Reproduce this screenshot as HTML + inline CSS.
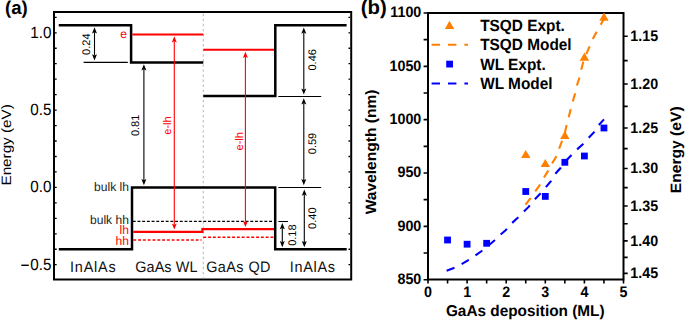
<!DOCTYPE html>
<html><head><meta charset="utf-8"><style>
html,body{margin:0;padding:0;background:#fff;width:685px;height:320px;overflow:hidden}
svg{display:block} text{text-rendering:geometricPrecision}
</style></head><body>
<svg width="685" height="320" viewBox="0 0 685 320">
<rect width="685" height="320" fill="#fff"/>
<rect x="54" y="12" width="297.2" height="267.5" fill="none" stroke="#000" stroke-width="2"/>
<path d="M55,264.70h1.7M350.2,264.70h-1.7M55,249.24h1.7M350.2,249.24h-1.7M55,233.78h1.7M350.2,233.78h-1.7M55,218.32h1.7M350.2,218.32h-1.7M55,202.86h1.7M350.2,202.86h-1.7M55,187.40h1.7M350.2,187.40h-1.7M55,171.94h1.7M350.2,171.94h-1.7M55,156.48h1.7M350.2,156.48h-1.7M55,141.02h1.7M350.2,141.02h-1.7M55,125.56h1.7M350.2,125.56h-1.7M55,110.10h1.7M350.2,110.10h-1.7M55,94.64h1.7M350.2,94.64h-1.7M55,79.18h1.7M350.2,79.18h-1.7M55,63.72h1.7M350.2,63.72h-1.7M55,48.26h1.7M350.2,48.26h-1.7M55,32.80h1.7M350.2,32.80h-1.7M55,17.34h1.7M350.2,17.34h-1.7" stroke="#000" stroke-width="1.3"/>
<text transform="translate(51.5,37.75) scale(0.935,1.0)" font-size="16.3" text-anchor="end" font-weight="normal" fill="#000" font-family="Liberation Sans, sans-serif">1.0</text>
<text transform="translate(51.5,115.05) scale(0.935,1.0)" font-size="16.3" text-anchor="end" font-weight="normal" fill="#000" font-family="Liberation Sans, sans-serif">0.5</text>
<text transform="translate(51.5,192.35) scale(0.935,1.0)" font-size="16.3" text-anchor="end" font-weight="normal" fill="#000" font-family="Liberation Sans, sans-serif">0.0</text>
<text transform="translate(51.5,269.65) scale(0.935,1.0)" font-size="16.3" text-anchor="end" font-weight="normal" fill="#000" font-family="Liberation Sans, sans-serif">0.5</text>
<path d="M21.3,265.3H28.8" stroke="#000" stroke-width="1.45"/>
<text transform="translate(11.3,144.9) rotate(-90) scale(1.12,1.0)" font-size="13.6" text-anchor="middle" font-weight="normal" fill="#000" font-family="Liberation Sans, sans-serif">Energy (eV)</text>
<text transform="translate(5.0,14.4)" font-size="18.6" text-anchor="start" font-weight="bold" fill="#000" font-family="Liberation Sans, sans-serif">(a)</text>
<line x1="203.3" y1="13.74" x2="203.3" y2="278.6" stroke="#bdbdbd" stroke-width="1.1" stroke-dasharray="2.4 2.6625"/>
<path d="M58.75,25.3H131.1V62.4H203.3" fill="none" stroke="#000" stroke-width="2.5"/>
<path d="M203.3,96.1H275.3V25.3H346.6" fill="none" stroke="#000" stroke-width="2.5"/>
<path d="M58.8,249.3H132V187.5H275.2V249.3H346.7" fill="none" stroke="#000" stroke-width="2.5"/>
<path d="M132.3,34.4H203.3M203.3,49.8H274" stroke="#f00" stroke-width="2"/>
<path d="M133.3,231.8H202.4V229.1H274" fill="none" stroke="#f00" stroke-width="2.2"/>
<path d="M133.3,239.9H201.6M203.3,237.3H274" stroke="#f00" stroke-width="1.5" stroke-dasharray="2.9 1.9"/>
<path d="M132.8,221.4H273.5" stroke="#000" stroke-width="1.4" stroke-dasharray="2.9 1.8"/>
<path d="M83.6,62.4H127.8M278.3,96.5H321.2M278.3,187.5H321.2M278.3,221.5H288" stroke="#000" stroke-width="1.2"/>
<line x1="94.5" y1="32.16" x2="94.5" y2="55.44" stroke="#000" stroke-width="1.1"/><path d="M94.5,27.2L92.0,33.4L94.5,32.16L97.0,33.4Z M94.5,60.4L92.0,54.199999999999996L94.5,55.44L97.0,54.199999999999996Z" fill="#000"/>
<line x1="143.9" y1="69.16" x2="143.9" y2="180.34" stroke="#000" stroke-width="1.1"/><path d="M143.9,64.2L141.4,70.4L143.9,69.16L146.4,70.4Z M143.9,185.3L141.4,179.10000000000002L143.9,180.34L146.4,179.10000000000002Z" fill="#000"/>
<line x1="303.8" y1="32.56" x2="303.8" y2="89.63999999999999" stroke="#000" stroke-width="1.1"/><path d="M303.8,27.6L301.3,33.800000000000004L303.8,32.56L306.3,33.800000000000004Z M303.8,94.6L301.3,88.39999999999999L303.8,89.63999999999999L306.3,88.39999999999999Z" fill="#000"/>
<line x1="303.8" y1="103.25999999999999" x2="303.8" y2="180.34" stroke="#000" stroke-width="1.1"/><path d="M303.8,98.3L301.3,104.5L303.8,103.25999999999999L306.3,104.5Z M303.8,185.3L301.3,179.10000000000002L303.8,180.34L306.3,179.10000000000002Z" fill="#000"/>
<line x1="304.3" y1="194.56" x2="304.3" y2="242.34" stroke="#000" stroke-width="1.1"/><path d="M304.3,189.6L301.8,195.79999999999998L304.3,194.56L306.8,195.79999999999998Z M304.3,247.3L301.8,241.10000000000002L304.3,242.34L306.8,241.10000000000002Z" fill="#000"/>
<line x1="282.3" y1="227.96" x2="282.3" y2="242.34" stroke="#000" stroke-width="1.1"/><path d="M282.3,223.0L279.8,229.2L282.3,227.96L284.8,229.2Z M282.3,247.3L279.8,241.10000000000002L282.3,242.34L284.8,241.10000000000002Z" fill="#000"/>
<line x1="174.3" y1="41.26" x2="174.3" y2="224.64" stroke="#f00" stroke-width="1.1"/><path d="M174.3,36.3L171.8,42.5L174.3,41.26L176.8,42.5Z M174.3,229.6L171.8,223.4L174.3,224.64L176.8,223.4Z" fill="#f00"/>
<line x1="245.4" y1="56.76" x2="245.4" y2="222.14" stroke="#f00" stroke-width="1.1"/><path d="M245.4,51.8L242.9,58.0L245.4,56.76L247.9,58.0Z M245.4,227.1L242.9,220.9L245.4,222.14L247.9,220.9Z" fill="#f00"/>
<text transform="translate(86.3,44.2) rotate(-90)" y="3.96" font-size="11.0" text-anchor="middle" font-weight="normal" fill="#000" font-family="Liberation Sans, sans-serif">0.24</text>
<text transform="translate(135.2,125.4) rotate(-90)" y="3.96" font-size="11.0" text-anchor="middle" font-weight="normal" fill="#000" font-family="Liberation Sans, sans-serif">0.81</text>
<text transform="translate(312.4,59.8) rotate(-90)" y="3.96" font-size="11.0" text-anchor="middle" font-weight="normal" fill="#000" font-family="Liberation Sans, sans-serif">0.46</text>
<text transform="translate(312.3,143.5) rotate(-90)" y="3.96" font-size="11.0" text-anchor="middle" font-weight="normal" fill="#000" font-family="Liberation Sans, sans-serif">0.59</text>
<text transform="translate(312.3,218.2) rotate(-90)" y="3.96" font-size="11.0" text-anchor="middle" font-weight="normal" fill="#000" font-family="Liberation Sans, sans-serif">0.40</text>
<text transform="translate(292,235.1) rotate(-90)" y="3.96" font-size="11.0" text-anchor="middle" font-weight="normal" fill="#000" font-family="Liberation Sans, sans-serif">0.18</text>
<text transform="translate(167.2,125.5) rotate(-90)" y="3.96" font-size="11.0" text-anchor="middle" font-weight="normal" fill="#f00" font-family="Liberation Sans, sans-serif">e-lh</text>
<text transform="translate(238.7,141.3) rotate(-90)" y="3.96" font-size="11.0" text-anchor="middle" font-weight="normal" fill="#f00" font-family="Liberation Sans, sans-serif">e-lh</text>
<text transform="translate(127.0,38.2) scale(0.98,1.0)" font-size="12.3" text-anchor="end" font-weight="normal" fill="#f00" font-family="Liberation Sans, sans-serif">e</text>
<text transform="translate(128.9,190.8) scale(0.98,1.0)" font-size="12.3" text-anchor="end" font-weight="normal" fill="#222" font-family="Liberation Sans, sans-serif">bulk lh</text>
<text transform="translate(128.9,223.9) scale(0.98,1.0)" font-size="12.3" text-anchor="end" font-weight="normal" fill="#222" font-family="Liberation Sans, sans-serif">bulk hh</text>
<text transform="translate(128.9,234.3) scale(0.98,1.0)" font-size="12.3" text-anchor="end" font-weight="normal" fill="#f00" font-family="Liberation Sans, sans-serif">lh</text>
<text transform="translate(128.9,244.7) scale(0.98,1.0)" font-size="12.3" text-anchor="end" font-weight="normal" fill="#f00" font-family="Liberation Sans, sans-serif">hh</text>
<text transform="translate(70,272) scale(0.95,1.0)" letter-spacing="0.85" font-size="15.2" text-anchor="start" font-weight="normal" fill="#111" font-family="Liberation Sans, sans-serif">InAlAs</text>
<text transform="translate(135.2,271.6) scale(0.95,1.0)" letter-spacing="0.1" font-size="15.2" text-anchor="start" font-weight="normal" fill="#111" font-family="Liberation Sans, sans-serif">GaAs WL</text>
<text transform="translate(206.2,271.6) scale(0.95,1.0)" letter-spacing="0.45" font-size="15.2" text-anchor="start" font-weight="normal" fill="#111" font-family="Liberation Sans, sans-serif">GaAs QD</text>
<text transform="translate(289.8,272.2) scale(0.95,1.0)" letter-spacing="0.75" font-size="15.2" text-anchor="start" font-weight="normal" fill="#111" font-family="Liberation Sans, sans-serif">InAlAs</text>
<path d="M428,279.6V13H623.5V279.6Z" fill="none" stroke="#000" stroke-width="2"/>
<path d="M428,279.68h-4.4M428,253.01h-4.4M428,226.34h-4.4M428,199.67h-4.4M428,173.00h-4.4M428,146.34h-4.4M428,119.67h-4.4M428,93.00h-4.4M428,66.34h-4.4M428,39.67h-4.4M428,13.00h-4.4M428.00,279.6v4M447.55,279.6v4M467.10,279.6v4M486.65,279.6v4M506.20,279.6v4M525.75,279.6v4M545.30,279.6v4M564.85,279.6v4M584.40,279.6v4M603.95,279.6v4M623.50,279.6v4M623.5,36.26h4.2M623.5,60.64h4.2M623.5,84.01h4.2M623.5,106.42h4.2M623.5,127.94h4.2M623.5,148.61h4.2M623.5,168.49h4.2M623.5,187.62h4.2M623.5,206.04h4.2M623.5,223.79h4.2M623.5,240.91h4.2M623.5,257.42h4.2M623.5,273.37h4.2" stroke="#000" stroke-width="1.6"/>
<text transform="translate(421.3,283.88) scale(0.94,1.0)" font-size="15.2" text-anchor="end" font-weight="bold" fill="#000" font-family="Liberation Sans, sans-serif">850</text>
<text transform="translate(421.3,230.54) scale(0.94,1.0)" font-size="15.2" text-anchor="end" font-weight="bold" fill="#000" font-family="Liberation Sans, sans-serif">900</text>
<text transform="translate(421.3,177.2) scale(0.94,1.0)" font-size="15.2" text-anchor="end" font-weight="bold" fill="#000" font-family="Liberation Sans, sans-serif">950</text>
<text transform="translate(421.3,123.87) scale(0.94,1.0)" font-size="15.2" text-anchor="end" font-weight="bold" fill="#000" font-family="Liberation Sans, sans-serif">1000</text>
<text transform="translate(421.3,70.54) scale(0.94,1.0)" font-size="15.2" text-anchor="end" font-weight="bold" fill="#000" font-family="Liberation Sans, sans-serif">1050</text>
<text transform="translate(421.3,17.2) scale(0.94,1.0)" font-size="15.2" text-anchor="end" font-weight="bold" fill="#000" font-family="Liberation Sans, sans-serif">1100</text>
<text transform="translate(428.0,297.3) scale(0.94,1.0)" font-size="15.2" text-anchor="middle" font-weight="bold" fill="#000" font-family="Liberation Sans, sans-serif">0</text>
<text transform="translate(467.1,297.3) scale(0.94,1.0)" font-size="15.2" text-anchor="middle" font-weight="bold" fill="#000" font-family="Liberation Sans, sans-serif">1</text>
<text transform="translate(506.2,297.3) scale(0.94,1.0)" font-size="15.2" text-anchor="middle" font-weight="bold" fill="#000" font-family="Liberation Sans, sans-serif">2</text>
<text transform="translate(545.3,297.3) scale(0.94,1.0)" font-size="15.2" text-anchor="middle" font-weight="bold" fill="#000" font-family="Liberation Sans, sans-serif">3</text>
<text transform="translate(584.4,297.3) scale(0.94,1.0)" font-size="15.2" text-anchor="middle" font-weight="bold" fill="#000" font-family="Liberation Sans, sans-serif">4</text>
<text transform="translate(623.5,297.3) scale(0.94,1.0)" font-size="15.2" text-anchor="middle" font-weight="bold" fill="#000" font-family="Liberation Sans, sans-serif">5</text>
<text transform="translate(630.3,40.86) scale(0.94,1.0)" font-size="15.2" text-anchor="start" font-weight="bold" fill="#000" font-family="Liberation Sans, sans-serif">1.15</text>
<text transform="translate(630.3,88.61) scale(0.94,1.0)" font-size="15.2" text-anchor="start" font-weight="bold" fill="#000" font-family="Liberation Sans, sans-serif">1.20</text>
<text transform="translate(630.3,132.54) scale(0.94,1.0)" font-size="15.2" text-anchor="start" font-weight="bold" fill="#000" font-family="Liberation Sans, sans-serif">1.25</text>
<text transform="translate(630.3,173.09) scale(0.94,1.0)" font-size="15.2" text-anchor="start" font-weight="bold" fill="#000" font-family="Liberation Sans, sans-serif">1.30</text>
<text transform="translate(630.3,210.64) scale(0.94,1.0)" font-size="15.2" text-anchor="start" font-weight="bold" fill="#000" font-family="Liberation Sans, sans-serif">1.35</text>
<text transform="translate(630.3,245.51) scale(0.94,1.0)" font-size="15.2" text-anchor="start" font-weight="bold" fill="#000" font-family="Liberation Sans, sans-serif">1.40</text>
<text transform="translate(630.3,277.97) scale(0.94,1.0)" font-size="15.2" text-anchor="start" font-weight="bold" fill="#000" font-family="Liberation Sans, sans-serif">1.45</text>
<text transform="translate(445.9,316.1) scale(0.985,1.0)" font-size="15.6" text-anchor="start" font-weight="bold" fill="#000" font-family="Liberation Sans, sans-serif">GaAs deposition (ML)</text>
<text transform="translate(375.9,151.9) rotate(-90) scale(1.0368421052631578,1.0)" font-size="15.0" text-anchor="middle" font-weight="bold" fill="#000" font-family="Liberation Sans, sans-serif">Wavelength (nm)</text>
<text transform="translate(680.6,149.8) rotate(-90) scale(1.0421052631578946,1.0)" font-size="15.0" text-anchor="middle" font-weight="bold" fill="#000" font-family="Liberation Sans, sans-serif">Energy (eV)</text>
<text transform="translate(360.8,14.2) scale(1.02,1.0)" font-size="20" text-anchor="start" font-weight="bold" fill="#000" font-family="Liberation Sans, sans-serif">(b)</text>
<path d="M449.5,20.799999999999997L454.2,29.0L444.8,29.0Z" fill="#ff8000"/>
<path d="M431.6,44.8H468" stroke="#ff8000" stroke-width="2" stroke-dasharray="8.4 8"/>
<rect x="446.20" y="60.70" width="6.8" height="6.8" fill="#0000ff"/>
<path d="M431.6,83.4H468" stroke="#0000ff" stroke-width="2" stroke-dasharray="8.4 8"/>
<text transform="translate(480.2,31.3) scale(0.95,1.0)" font-size="16.2" text-anchor="start" font-weight="bold" fill="#000" font-family="Liberation Sans, sans-serif">TSQD Expt.</text>
<text transform="translate(480.2,50.4) scale(0.95,1.0)" font-size="16.2" text-anchor="start" font-weight="bold" fill="#000" font-family="Liberation Sans, sans-serif">TSQD Model</text>
<text transform="translate(480.2,69.9) scale(0.95,1.0)" font-size="16.2" text-anchor="start" font-weight="bold" fill="#000" font-family="Liberation Sans, sans-serif">WL Expt.</text>
<text transform="translate(480.2,88.7) scale(0.95,1.0)" font-size="16.2" text-anchor="start" font-weight="bold" fill="#000" font-family="Liberation Sans, sans-serif">WL Model</text>
<defs><clipPath id="cb"><rect x="428" y="13" width="195.5" height="266.6"/></clipPath></defs>
<g clip-path="url(#cb)">
<path d="M446.6,270.7 L454.6,267.8 L461,264.5 L469,259.8 L474.7,256 L481.7,251 L488.8,245.3 L494.4,240.6 L499.7,235.3 L505.6,230.3 L511.4,223.6 L516.9,218.6 L523.1,212.3 L528.6,206.9 L534,200.2 L540.2,193.75 L545.6,187.5 L551.1,180.9 L555,174.2 L560.5,168 L565,161.7 L570.6,156 L576.6,149.8 L582.8,144.3 L588.5,138.1 L594.1,132.1 L598.8,125 L604,119.4" fill="none" stroke="#0000ff" stroke-width="2.1" stroke-dasharray="8.4 8"/>
<path d="M525.5,204.6 L530.2,198.6 L534.9,191.8 L539.6,185.5 L543.1,178.9 L547.8,171.4 L551.3,164.6 L556,157.1 L559,149.0 L561.9,141.25 L565,132.5 L566.5,125.6 L568.75,116.9 L570.6,109.75 L572.9,101.25 L575,93.75 L576.9,85.5 L579.4,77.75 L581.25,69.8 L583.1,62.5 L586.25,54.4 L589.4,46.9 L592.5,39.6 L596.25,32.5 L600.6,25 L603.6,19.5 L605,16" fill="none" stroke="#ff8000" stroke-width="2.1" stroke-dasharray="8.4 8"/>
</g>
<rect x="444.15" y="236.60" width="6.8" height="6.8" fill="#0000ff"/>
<rect x="463.70" y="240.80" width="6.8" height="6.8" fill="#0000ff"/>
<rect x="483.25" y="239.90" width="6.8" height="6.8" fill="#0000ff"/>
<rect x="522.35" y="188.10" width="6.8" height="6.8" fill="#0000ff"/>
<rect x="541.90" y="193.00" width="6.8" height="6.8" fill="#0000ff"/>
<rect x="561.45" y="158.90" width="6.8" height="6.8" fill="#0000ff"/>
<rect x="581.00" y="152.60" width="6.8" height="6.8" fill="#0000ff"/>
<rect x="600.55" y="124.60" width="6.8" height="6.8" fill="#0000ff"/>
<path d="M525.75,149.9L530.45,158.1L521.05,158.1Z" fill="#ff8000"/>
<path d="M545.3,158.9L550.0,167.1L540.5999999999999,167.1Z" fill="#ff8000"/>
<path d="M564.85,130.70000000000002L569.5500000000001,138.9L560.15,138.9Z" fill="#ff8000"/>
<path d="M584.4,52.5L589.1,60.7L579.6999999999999,60.7Z" fill="#ff8000"/>
<path d="M603.95,12.500000000000002L608.6500000000001,20.700000000000003L599.25,20.700000000000003Z" fill="#ff8000"/>
</svg>
</body></html>
